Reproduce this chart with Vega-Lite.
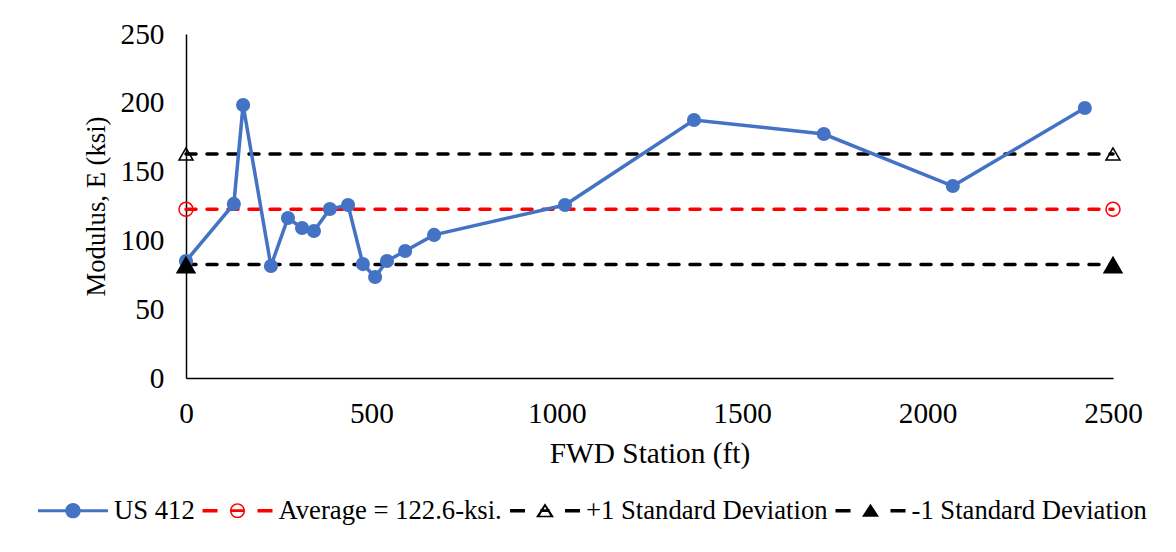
{
  "$schema": "https://vega.github.io/schema/vega-lite/v6.json",
  "width": 927,
  "height": 344,
  "autosize": {"type": "none"},
  "padding": {"left": 186, "top": 34, "right": 63, "bottom": 174},
  "background": "white",
  "config": {"view": {"stroke": null}, "font": "Liberation Serif"},
  "data": {
    "values": [
      {"series": "US 412", "station": 0, "modulus": 85},
      {"series": "US 412", "station": 129, "modulus": 126.5},
      {"series": "US 412", "station": 154, "modulus": 198.4},
      {"series": "US 412", "station": 229, "modulus": 81.4},
      {"series": "US 412", "station": 275, "modulus": 116.3},
      {"series": "US 412", "station": 313, "modulus": 109},
      {"series": "US 412", "station": 345, "modulus": 106.8},
      {"series": "US 412", "station": 388, "modulus": 122.8},
      {"series": "US 412", "station": 437, "modulus": 125.7},
      {"series": "US 412", "station": 477, "modulus": 82.8},
      {"series": "US 412", "station": 510, "modulus": 73.4},
      {"series": "US 412", "station": 542, "modulus": 85},
      {"series": "US 412", "station": 591, "modulus": 92.3},
      {"series": "US 412", "station": 669, "modulus": 104},
      {"series": "US 412", "station": 1022, "modulus": 125.7},
      {"series": "US 412", "station": 1370, "modulus": 187.5},
      {"series": "US 412", "station": 1720, "modulus": 177.3},
      {"series": "US 412", "station": 2068, "modulus": 139.5},
      {"series": "US 412", "station": 2424, "modulus": 196.2},
      {"series": "Average = 122.6-ksi.", "station": 0, "modulus": 122.6},
      {"series": "Average = 122.6-ksi.", "station": 2500, "modulus": 122.6},
      {"series": "+1 Standard Deviation", "station": 0, "modulus": 162.8},
      {"series": "+1 Standard Deviation", "station": 2500, "modulus": 162.8},
      {"series": "-1 Standard Deviation", "station": 0, "modulus": 82.4},
      {"series": "-1 Standard Deviation", "station": 2500, "modulus": 82.4}
    ]
  },
  "encoding": {
    "x": {
      "field": "station",
      "type": "quantitative",
      "scale": {"domain": [0, 2500], "nice": false},
      "axis": {
        "title": "FWD Station (ft)",
        "values": [0, 500, 1000, 1500, 2000, 2500],
        "format": "d",
        "grid": false,
        "ticks": false,
        "tickSize": 0,
        "domainColor": "#000000",
        "domainWidth": 1.5,
        "labelFont": "Liberation Serif",
        "labelFontSize": 29.33,
        "labelColor": "#000000",
        "labelPadding": 21,
        "labelFlush": false,
        "labelOverlap": false,
        "titleFont": "Liberation Serif",
        "titleFontSize": 29.33,
        "titleFontWeight": "normal",
        "titleColor": "#000000",
        "titlePadding": 11
      }
    },
    "y": {
      "field": "modulus",
      "type": "quantitative",
      "scale": {"domain": [0, 250], "nice": false},
      "axis": {
        "title": "Modulus, E (ksi)",
        "values": [0, 50, 100, 150, 200, 250],
        "format": "d",
        "grid": false,
        "ticks": false,
        "tickSize": 0,
        "domainColor": "#000000",
        "domainWidth": 1.5,
        "labelFont": "Liberation Serif",
        "labelFontSize": 29.33,
        "labelColor": "#000000",
        "labelPadding": 22,
        "labelFlush": false,
        "labelOverlap": false,
        "titleFont": "Liberation Serif",
        "titleFontSize": 26.67,
        "titleFontWeight": "normal",
        "titleColor": "#000000",
        "titlePadding": 10
      }
    }
  },
  "layer": [
    {
      "mark": {"type": "point", "filled": true, "opacity": 0, "size": 4900, "strokeWidth": 0},
      "encoding": {
        "shape": {
          "field": "series",
          "type": "nominal",
          "scale": {
            "domain": ["US 412", "Average = 122.6-ksi.", "+1 Standard Deviation", "-1 Standard Deviation"],
            "range": [
              "M-1,-0.043H1V0.043H-1Z M0.22,0A0.22,0.22 0 1,1 -0.22,0A0.22,0.22 0 1,1 0.22,0Z",
              "M-1,-0.05H-0.571V0.05H-1Z M0.571,-0.05H1V0.05H0.571Z M0.214,0A0.214,0.214 0 1,1 -0.214,0A0.214,0.214 0 1,1 0.214,0Z M0.171,0A0.171,0.171 0 1,0 -0.171,0A0.171,0.171 0 1,0 0.171,0Z M-0.171,-0.04H0.171V0.04H-0.171Z",
              "M-1,-0.05H-0.571V0.05H-1Z M0.571,-0.05H1V0.05H0.571Z M0,-0.214L0.257,0.186L-0.257,0.186Z M0,-0.11L-0.15,0.143L0.15,0.143Z M-0.137,-0.04H0.137V0.04H-0.137Z",
              "M-1,-0.05H-0.571V0.05H-1Z M0.571,-0.05H1V0.05H0.571Z M0,-0.2L0.243,0.171L-0.243,0.171Z"
            ]
          },
          "legend": {
            "title": null,
            "orient": "none",
            "legendX": -148,
            "legendY": 441.5,
            "direction": "horizontal",
            "padding": 0,
            "labelFont": "Liberation Serif",
            "labelFontSize": 26.67,
            "labelColor": "#000000",
            "labelLimit": 1000,
            "labelOffset": 6,
            "columnPadding": 7.5,
            "symbolSize": 4900,
            "symbolStrokeWidth": 0,
            "symbolStrokeColor": "transparent",
            "symbolOpacity": 1
          }
        },
        "fill": {
          "field": "series",
          "type": "nominal",
          "scale": {
            "domain": ["US 412", "Average = 122.6-ksi.", "+1 Standard Deviation", "-1 Standard Deviation"],
            "range": ["#4472C4", "#FF0000", "#000000", "#000000"]
          },
          "legend": {
            "title": null,
            "orient": "none",
            "legendX": -148,
            "legendY": 441.5,
            "direction": "horizontal",
            "padding": 0,
            "labelFont": "Liberation Serif",
            "labelFontSize": 26.67,
            "labelColor": "#000000",
            "labelLimit": 1000,
            "labelOffset": 6,
            "columnPadding": 7.5,
            "symbolSize": 4900,
            "symbolStrokeWidth": 0,
            "symbolStrokeColor": "transparent",
            "symbolOpacity": 1
          }
        }
      }
    },
    {
      "transform": [{"filter": "datum.series === 'Average = 122.6-ksi.'"}],
      "mark": {"type": "line", "strokeWidth": 3.5, "strokeDash": [10, 11], "strokeCap": "round", "color": "#FF0000"}
    },
    {
      "transform": [{"filter": "datum.series === '+1 Standard Deviation' || datum.series === '-1 Standard Deviation'"}],
      "mark": {"type": "line", "strokeWidth": 3.5, "strokeDash": [10, 11], "strokeCap": "round", "color": "#000000"},
      "encoding": {"detail": {"field": "series", "type": "nominal"}}
    },
    {
      "transform": [{"filter": "datum.series === 'US 412'"}],
      "mark": {"type": "line", "strokeWidth": 3.5, "color": "#4472C4"}
    },
    {
      "transform": [{"filter": "datum.series === 'US 412'"}],
      "mark": {"type": "point", "shape": "circle", "filled": true, "size": 200, "color": "#4472C4", "opacity": 1}
    },
    {
      "transform": [{"filter": "datum.series === 'Average = 122.6-ksi.'"}],
      "mark": {"type": "point", "shape": "circle", "filled": false, "size": 196, "stroke": "#FF0000", "strokeWidth": 1.5, "opacity": 1}
    },
    {
      "transform": [{"filter": "datum.series === '+1 Standard Deviation'"}],
      "mark": {"type": "point", "shape": "triangle-up", "filled": false, "size": 196, "stroke": "#000000", "strokeWidth": 1.5, "opacity": 1}
    },
    {
      "transform": [{"filter": "datum.series === '-1 Standard Deviation'"}],
      "mark": {"type": "point", "shape": "triangle-up", "filled": true, "size": 420, "color": "#000000", "opacity": 1}
    }
  ]
}
